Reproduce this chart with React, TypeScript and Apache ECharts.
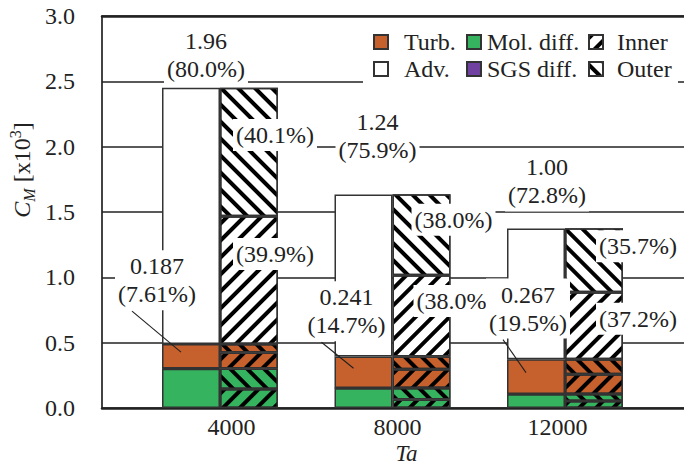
import React, { useEffect, useRef } from 'react';
import * as echarts from 'echarts';

// ---------- data ----------
const categories = ['4000', '8000', '12000'];
const molDiff = [0.301, 0.151, 0.105];
const sgsDiff = [0.002, 0.002, 0.002];
const turb = [0.187, 0.241, 0.267];
const adv = [1.96, 1.24, 1.0];
const turbPct = [7.61, 14.7, 19.5];
const advPct = [80.0, 75.9, 72.8];

const innerMol = [0.145, 0.065, 0.053];
const outerMol = [0.158, 0.088, 0.054];
const innerTurb = [0.122, 0.143, 0.151];
const outerTurb = [0.065, 0.098, 0.116];
const innerAdv = [0.978, 0.621, 0.511];
const outerAdv = [0.982, 0.621, 0.49];
const innerAdvPct = [39.9, 38.0, 37.2];
const outerAdvPct = [40.1, 38.0, 35.7];

// ---------- style / placement ----------
const FONT = 'Liberation Serif';
const BAR_W = 58;
const GREEN = '#35b35e';
const ORANGE = '#c6602c';
const PURPLE = '#7041a0';
const EDGE = '#333';
const INK = '#222';

const advLabelOffset = [[15, -3], [14, -28], [11, -17]];
const turbLabelOffset = [[-34, -76], [-17, -61], [-8, -68]];
const innerLabelOffset = [[26, -26], [34, -15], [44, -7]];
const outerLabelOffset = [[26, -17], [32, -15], [44, -14]];
const xLabelPad = [[0, 0, 0, 23], [0, 0, 0, 10], [0, 15, 0, 0]];
const leadStart = [-25, 31];
const leadEnd = [-10, -4];

const decalInner = {
  symbol: 'rect', symbolSize: 1, color: '#000',
  dashArrayX: [1, 0], dashArrayY: [4, 8], rotation: -Math.PI / 4,
};
const decalOuter = { ...decalInner, rotation: Math.PI / 4 };

const labelBase = {
  show: true,
  fontFamily: FONT,
  fontSize: 24,
  lineHeight: 28,
  color: INK,
  backgroundColor: '#fff',
  padding: [2, 3],
};

function items(vals: number[], offs: number[][], extra: any = {}) {
  return vals.map((v, i) => ({ value: v, label: { offset: offs[i], ...extra } }));
}

export default function App() {
  const ref = useRef<HTMLDivElement>(null);
  useEffect(() => {
    const chart = echarts.init(ref.current!, null, { renderer: 'svg' });
    const barCommon = {
      type: 'bar',
      xAxisIndex: 2,
      yAxisIndex: 1,
      barWidth: BAR_W,
      barGap: '0%',
      emphasis: { disabled: true },
    };
    const edge = { borderColor: EDGE, borderWidth: 1.5 };

    const legendCommon = {
      orient: 'vertical',
      top: 30,
      padding: 0,
      itemGap: 3,
      itemWidth: 14,
      itemHeight: 14,
      icon: 'rect',
      selectedMode: false,
      textStyle: { fontFamily: FONT, fontSize: 24, lineHeight: 24, color: INK },
    };

    const baseGraphic: any[] = [
      { type: 'rect', id: 'legendBg', z: 1, shape: { x: 363, y: 20, width: 315, height: 66 }, style: { fill: '#fff' } },
      {
        type: 'text', id: 'yTitle', x: 22, y: 170, rotation: Math.PI / 2, z: 5,
        style: {
          text: '{it|C}{sub|M}{n| [x10}{sup|3}{n|]}',
          align: 'center', verticalAlign: 'middle', fill: INK,
          fontFamily: FONT, fontSize: 24,
          rich: {
            it: { fontFamily: FONT, fontSize: 24, fontStyle: 'italic', fill: INK, lineHeight: 30 },
            sub: { fontFamily: FONT, fontSize: 16, fontStyle: 'italic', fill: INK, lineHeight: 16, verticalAlign: 'bottom' },
            n: { fontFamily: FONT, fontSize: 24, fill: INK, lineHeight: 30 },
            sup: { fontFamily: FONT, fontSize: 16, fill: INK, lineHeight: 16, verticalAlign: 'top' },
          },
        },
      },
    ];

    const option: any = {
      animation: false,
      backgroundColor: '#fff',
      grid: [
        { left: 102, right: 0, top: 16, bottom: 58, outerBoundsMode: 'none', containLabel: false },
        { left: 133.75, right: 32.75, top: 16, bottom: 58, outerBoundsMode: 'none', containLabel: false },
      ],
      xAxis: [
        { type: 'value', gridIndex: 0, min: 0, max: 1, position: 'bottom',
          axisLine: { show: true, lineStyle: { color: INK, width: 2.5 } },
          axisTick: { show: false }, axisLabel: { show: false }, splitLine: { show: false } },
        { type: 'value', gridIndex: 0, min: 0, max: 1, position: 'top',
          axisLine: { show: true, lineStyle: { color: INK, width: 2.5 } },
          axisTick: { show: false }, axisLabel: { show: false }, splitLine: { show: false } },
        { type: 'category', gridIndex: 1, data: categories,
          axisLine: { show: false }, axisTick: { show: false },
          axisLabel: {
            margin: 9, fontFamily: FONT, fontSize: 24, lineHeight: 20, color: INK,
            formatter: (v: string, i: number) => `{c${i}|${v}}`,
            rich: Object.fromEntries(xLabelPad.map((p, i) => [
              `c${i}`, { fontFamily: FONT, fontSize: 24, lineHeight: 20, color: INK, padding: p },
            ])),
          },
          name: 'Ta', nameLocation: 'middle', nameGap: 35, nameMoveOverlap: false,
          nameTextStyle: { fontFamily: FONT, fontSize: 23, lineHeight: 20, fontStyle: 'italic', color: INK, padding: [0, 0, 0, 28] },
        },
      ],
      yAxis: [
        { type: 'value', gridIndex: 0, min: 0, max: 3, interval: 0.5,
          axisLine: { show: true, lineStyle: { color: INK, width: 1.7 } },
          axisTick: { show: false },
          axisLabel: { margin: 27, fontFamily: FONT, fontSize: 24, color: INK, formatter: (v: number) => v.toFixed(1) },
          splitLine: { show: true, lineStyle: { color: INK, width: 1.7 } } },
        { type: 'value', gridIndex: 1, min: 0, max: 3, show: false, splitLine: { show: false } },
      ],
      legend: [
        { ...legendCommon, left: 373, data: ['Turb.', 'Adv.'],
          textStyle: { ...legendCommon.textStyle, padding: [0, 0, 0, 11] } },
        { ...legendCommon, left: 466, data: ['Mol. diff.', 'SGS diff.'],
          textStyle: { ...legendCommon.textStyle, padding: [0, 0, 0, 1] } },
        { ...legendCommon, left: 588, data: ['Inner', 'Outer'],
          textStyle: { ...legendCommon.textStyle, padding: [0, 0, 0, 9] } },
      ],
      graphic: baseGraphic,
      series: [
        { ...barCommon, name: 'Mol. diff.', stack: 'L', data: molDiff, itemStyle: { color: GREEN, ...edge } },
        { ...barCommon, name: 'SGS diff.', stack: 'L', data: sgsDiff, itemStyle: { color: PURPLE, ...edge } },
        { ...barCommon, name: 'Turb.', stack: 'L', z: 4, itemStyle: { color: ORANGE, ...edge },
          label: { ...labelBase, position: 'inside',
            formatter: (p: any) => `${turb[p.dataIndex].toPrecision(3)}\n(${turbPct[p.dataIndex].toPrecision(3)}%)` },
          data: items(turb, turbLabelOffset) },
        { ...barCommon, name: 'Adv.', stack: 'L', itemStyle: { color: '#fff', ...edge },
          label: { ...labelBase, position: 'top', distance: 0,
            formatter: (p: any) => `${adv[p.dataIndex].toFixed(2)}\n(${advPct[p.dataIndex].toFixed(1)}%)` },
          data: items(adv, advLabelOffset) },
        { ...barCommon, name: 'Inner mol', stack: 'R', data: innerMol, itemStyle: { color: GREEN, decal: decalInner, ...edge } },
        { ...barCommon, name: 'Outer mol', stack: 'R', data: outerMol, itemStyle: { color: GREEN, decal: decalOuter, ...edge } },
        { ...barCommon, name: 'Inner turb', stack: 'R', data: innerTurb, itemStyle: { color: ORANGE, decal: decalInner, ...edge } },
        { ...barCommon, name: 'Outer turb', stack: 'R', data: outerTurb, itemStyle: { color: ORANGE, decal: decalOuter, ...edge } },
        { ...barCommon, name: 'Inner', stack: 'R', z: 3, itemStyle: { color: '#fff', decal: decalInner, ...edge },
          label: { ...labelBase, position: 'inside', formatter: (p: any) => `(${innerAdvPct[p.dataIndex].toFixed(1)}%)` },
          data: items(innerAdv, innerLabelOffset) },
        { ...barCommon, name: 'Outer', stack: 'R', z: 3, itemStyle: { color: '#fff', decal: decalOuter, ...edge },
          label: { ...labelBase, position: 'inside', formatter: (p: any) => `(${outerAdvPct[p.dataIndex].toFixed(1)}%)` },
          data: items(outerAdv, outerLabelOffset) },
      ],
    };
    chart.setOption(option);

    const leads = categories.map((_, i) => {
      const mid = molDiff[i] + sgsDiff[i] + turb[i] / 2;
      const pt = chart.convertToPixel({ gridIndex: 1 }, [i, mid]) as number[];
      const bx = pt[0] - BAR_W / 2;
      const lx = bx + turbLabelOffset[i][0];
      const ly = pt[1] + turbLabelOffset[i][1];
      return {
        type: 'line', id: `lead${i}`, z: 10,
        shape: { x1: lx + leadStart[0], y1: ly + leadStart[1], x2: bx + leadEnd[0], y2: pt[1] + leadEnd[1] },
        style: { stroke: INK, lineWidth: 1.1 },
      };
    });
    chart.setOption({ graphic: [...baseGraphic, ...leads] });

    return () => chart.dispose();
  }, []);
  return <div ref={ref} style={{ position: 'fixed', left: 0, top: 0, width: 684, height: 466 }} />;
}
